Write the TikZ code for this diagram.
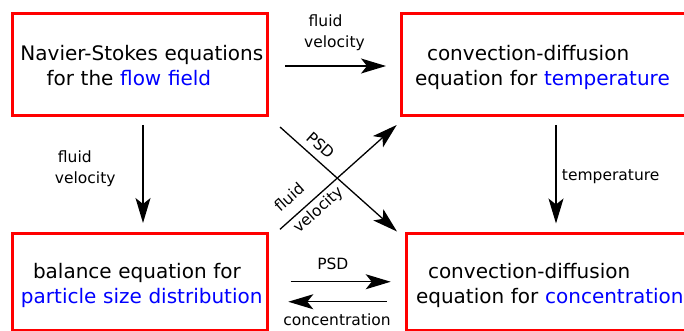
\documentclass[tikz,border=0pt]{standalone}
\usepackage{fontspec}
\setmainfont{DejaVu Sans}
\usepackage{xcolor}
\usepackage{tikz}
\usetikzlibrary{positioning, arrows.meta}

\newcommand{\eqfont}{\fontsize{20pt}{25pt}\selectfont}
\newcommand{\lblfont}{\fontsize{15.5pt}{21pt}\selectfont}

\begin{document}
\begin{tikzpicture}[
    x=1pt, y=-1pt,
    eqbox/.style={rectangle, draw=red, line width=3pt, anchor=north west,
      inner xsep=0pt, inner ysep=0pt, outer sep=0pt, align=left, font=\eqfont,
      text height=10pt, text depth=17.5pt},
    lbl/.style={font=\lblfont, inner sep=3.33pt},
    flow/.style={-{Stealth[length=25pt, width=15pt, inset=6pt]}, line width=1.3pt},
]
\useasboundingbox (0,0) rectangle (684,331);
\clip (0,0) rectangle (684,331);

% Equation boxes
\node[eqbox, text width=255.5pt, minimum height=101.5pt] (ns) at (12,14)
  {\hspace*{8.5pt}Navier-Stokes equations\\
   \hspace*{34.5pt}for the \textcolor{blue}{flow field}};
\node[eqbox, text width=309pt, minimum height=101.5pt] (temp) at (401.5,14)
  {\hspace*{25.5pt}convection-diffusion\\
   \hspace*{13.5pt}equation for \textcolor{blue}{temperature}};
\node[eqbox, text width=255.5pt, minimum height=97.5pt] (psd) at (12,233)
  {\hspace*{21pt}balance equation for\\
   \hspace*{9pt}\textcolor{blue}{particle size distribution}};
\node[eqbox, text width=299pt, minimum height=97.5pt] (conc) at (406.5,233)
  {\hspace*{21.5pt}convection-diffusion\\
   \hspace*{9.5pt}equation for \textcolor{blue}{concentration}};

% Couplings
\draw[flow, shorten <=17.5pt, shorten >=15.5pt] ([yshift=-1.25pt]ns.east)
  -- node[lbl, above=11pt, align=left] (nsvel) {\hspace*{4.5pt}fluid\\velocity}
  ([yshift=-1.25pt]temp.west);
\draw[flow, shorten <=9.5pt, shorten >=10pt] ([xshift=3.25pt]ns.south)
  -- node[lbl, pos=0.455, left=23.5pt, align=left] (psdvel) {\hspace*{3pt}fluid\\velocity}
  ([xshift=3.25pt]psd.north);
\draw[flow, shorten <=9.5pt, shorten >=9.5pt] (temp.south)
  -- node[lbl, pos=0.517, right=2pt] (conctemp) {temperature}
  (conc.north);
\draw[flow] ([shift={(12.5,11.5)}]ns.south east)
  -- node[lbl, pos=0.27, sloped, above=3.5pt] (concpsd) {PSD}
  ([shift={(-9.5,-1.5)}]conc.north west);
\draw[flow] ([shift={(12.5,-3.7)}]psd.north east)
  -- node[lbl, pos=0.18, sloped, above=8pt] (tempfluid) {fluid}
     node[lbl, pos=0.265, sloped, below] (tempvel) {velocity}
  ([shift={(-4.8,9.5)}]temp.south west);
\draw[flow, shorten <=23.2pt, shorten >=15.8pt] (psd.east)
  -- node[lbl, pos=0.47, above=8.4pt] (psdout) {PSD}
  (conc.west);
\draw[flow, shorten <=19.8pt, shorten >=20.8pt] ([yshift=-20pt]conc.west)
  -- node[lbl, below=8pt] (concout) {concentration}
  ([yshift=-20pt]psd.east);
\end{tikzpicture}
\end{document}
